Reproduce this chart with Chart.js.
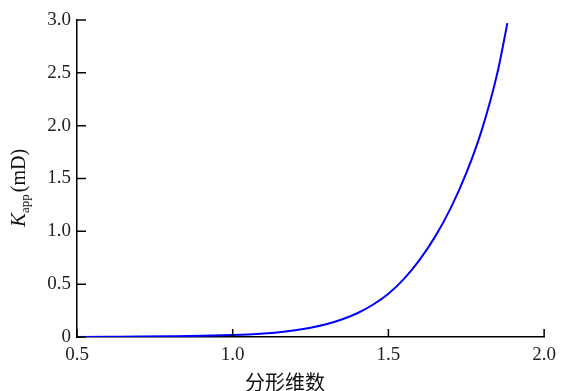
<!DOCTYPE html>
<html>
<head>
<meta charset="utf-8">
<script src="https://cdn.jsdelivr.net/npm/chart.js@4/dist/chart.umd.min.js"></script>
<style>
  html, body { margin: 0; padding: 0; background: #fff; }
  #wrap { width: 563px; height: 391px; position: relative; }
</style>
</head>
<body>
<div id="wrap"><canvas id="myChart"></canvas></div>
<script>
// fractal dimension vs apparent permeability
var fractalDim = [0.5, 0.6, 0.7, 0.8, 0.9, 1.0, 1.05, 1.1, 1.15, 1.2, 1.25, 1.3, 1.35, 1.4, 1.45, 1.5, 1.55, 1.6, 1.65, 1.7, 1.75, 1.8, 1.85, 1.882];
var kApp = [0.0, 0.002, 0.004, 0.007, 0.011, 0.018, 0.024, 0.033, 0.046, 0.064, 0.088, 0.12, 0.165, 0.225, 0.305, 0.41, 0.55, 0.73, 0.95, 1.22, 1.55, 1.96, 2.5, 2.97];
var xTicks = [0.5, 1.0, 1.5, 2.0];
var yTicks = [0, 0.5, 1.0, 1.5, 2.0, 2.5, 3.0];
var xTitle = '分形维数';

var points = [];
for (var i in fractalDim) {
    points.push({x: fractalDim[i], y: kApp[i]});
}

var serif = "'Liberation Serif', 'DejaVu Serif', serif";

// inward ticks, y title with italic K + subscript, x title
var extras = {
    id: 'extras',
    afterDraw: function(chart) {
        var ctx = chart.ctx;
        var xs = chart.scales.x, ys = chart.scales.y;
        var area = chart.chartArea;
        ctx.save();
        ctx.strokeStyle = '#000';
        ctx.lineWidth = 1.5;
        ctx.beginPath();
        xTicks.forEach(function(v){
            var px = xs.getPixelForValue(v);
            ctx.moveTo(px, area.bottom);
            ctx.lineTo(px, area.bottom - 8);
        });
        yTicks.forEach(function(v){
            var py = ys.getPixelForValue(v);
            ctx.moveTo(area.left, py);
            ctx.lineTo(area.left + 9, py);
        });
        ctx.stroke();

        ctx.fillStyle = '#111';
        ctx.textAlign = 'center';
        ctx.textBaseline = 'alphabetic';
        ctx.font = "20px 'Noto Sans CJK SC', sans-serif";
        ctx.fillText(xTitle, 285, 390);

        ctx.translate(25, 184);
        ctx.rotate(-Math.PI / 2);
        ctx.textAlign = 'left';
        var x0 = -43;
        ctx.font = "italic 21px " + serif;
        ctx.fillText('K', x0, 0);
        x0 += ctx.measureText('K').width;
        ctx.font = "13px " + serif;
        ctx.fillText('app', x0, 4);
        x0 += ctx.measureText('app').width + 2;
        ctx.font = "20px " + serif;
        ctx.fillText('(mD)', x0, 0);
        ctx.restore();
    }
};

var ctx = document.getElementById('myChart');
var chart = new Chart(ctx, {
    type: 'scatter',
    data: {
        datasets: [{
            data: points,
            showLine: true,
            borderColor: '#0000ff',
            borderWidth: 2,
            pointRadius: 0,
            cubicInterpolationMode: 'monotone',
            fill: false
        }]
    },
    options: {
        responsive: true,
        maintainAspectRatio: false,
        animation: false,
        layout: { padding: { left: 0, right: 16, top: 20, bottom: 0 } },
        plugins: {
            legend: { display: false },
            tooltip: { enabled: false }
        },
        scales: {
            x: {
                type: 'linear',
                min: 0.5,
                max: 2.0,
                afterBuildTicks: function(axis){ axis.ticks = xTicks.map(function(v){ return {value: v}; }); },
                afterFit: function(axis){ axis.height = 54; },
                grid: { display: false, drawTicks: false },
                border: { display: true, color: '#000', width: 1.5 },
                ticks: {
                    padding: 7,
                    color: '#222',
                    font: { family: serif, size: 19 },
                    maxRotation: 0,
                    callback: function(v){ return v.toFixed(1); }
                }
            },
            y: {
                type: 'linear',
                min: 0,
                max: 3.0,
                afterBuildTicks: function(axis){ axis.ticks = yTicks.map(function(v){ return {value: v}; }); },
                afterFit: function(axis){ axis.width = 77; },
                grid: { display: false, drawTicks: false },
                border: { display: true, color: '#000', width: 1.5 },
                ticks: {
                    padding: 6,
                    color: '#222',
                    font: { family: serif, size: 19 },
                    callback: function(v){ return v === 0 ? '0' : v.toFixed(1); }
                }
            }
        }
    },
    plugins: [extras]
});
</script>
</body>
</html>
